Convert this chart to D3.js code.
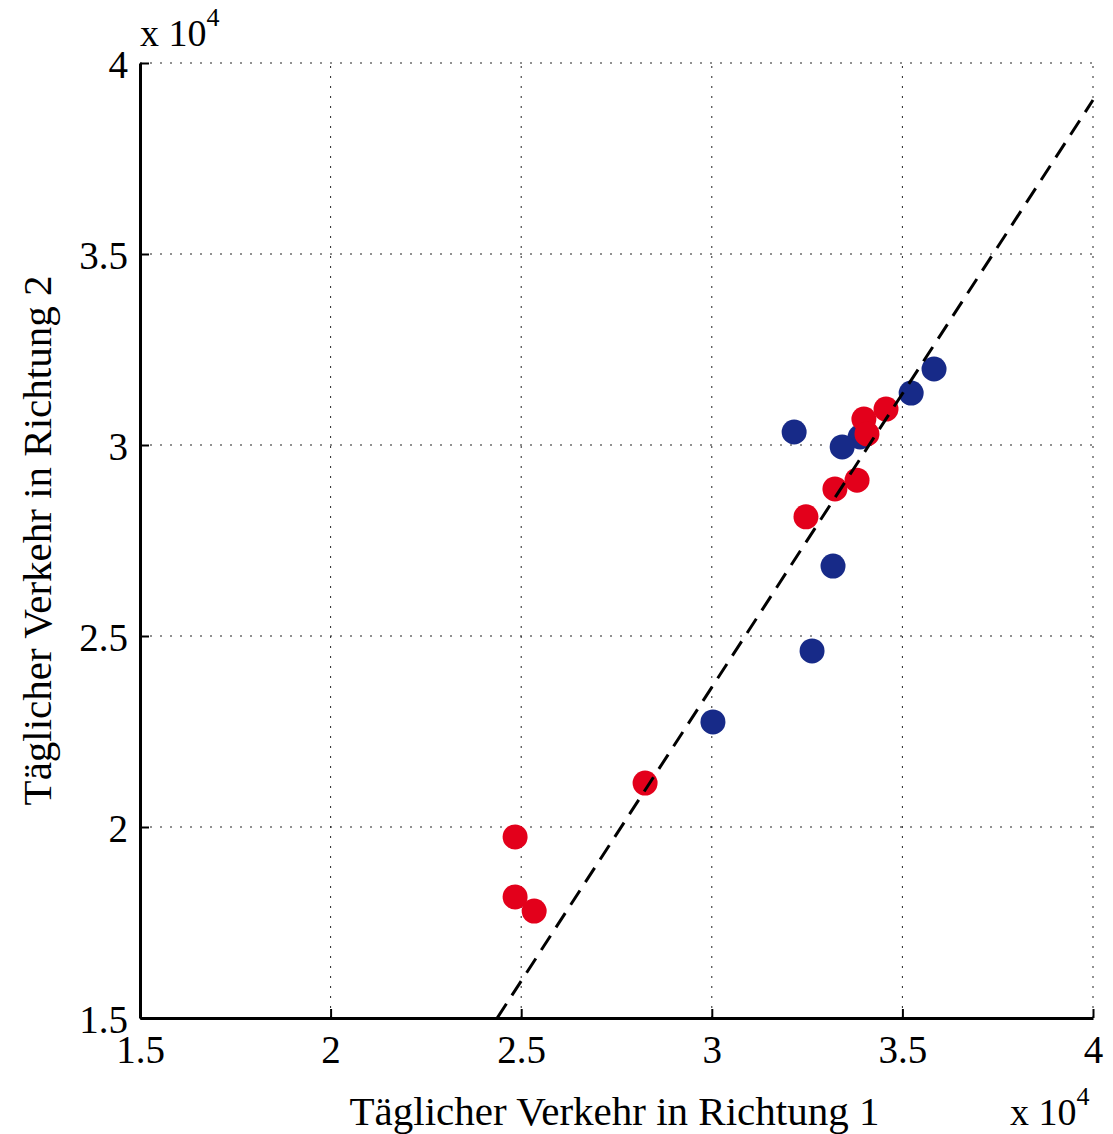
<!DOCTYPE html>
<html>
<head>
<meta charset="utf-8">
<script src="https://cdn.jsdelivr.net/npm/d3@7"></script>
<style>
  body { margin: 0; background: #fff; }
  svg text { font-family: "Liberation Serif", "Times New Roman", serif; fill: #000; }
</style>
</head>
<body>
<div id="chart"></div>
<script>
// values in units of 10^4
var xTicks = [1.5, 2, 2.5, 3, 3.5, 4]
var yTicks = [1.5, 2, 2.5, 3, 3.5, 4]

var blueX = [3.216, 3.389, 3.342, 3.523, 3.583, 3.318, 3.263, 3.003]
var blueY = [3.034, 3.021, 2.995, 3.136, 3.199, 2.683, 2.461, 2.275]

var redX = [2.484, 2.484, 2.534, 2.825, 3.247, 3.323, 3.381, 3.399, 3.407, 3.457]
var redY = [1.974, 1.817, 1.780, 2.115, 2.812, 2.885, 2.908, 3.068, 3.029, 3.094]

// fitted line endpoints
var fitX = [2.437, 4.0]
var fitY = [1.5, 3.903]

var xLabel = 'Täglicher Verkehr in Richtung 1'
var yLabel = 'Täglicher Verkehr in Richtung 2'

var width = 1113
var height = 1134
var margin = { left: 140, right: 20, top: 63, bottom: 116 }

const svg = d3
    .select('#chart')
    .append('svg')
    .attr('width', width)
    .attr('height', height)

var x = d3.scaleLinear()
    .domain([1.5, 4])
    .range([margin.left, width - margin.right])

var y = d3.scaleLinear()
    .domain([1.5, 4])
    .range([height - margin.bottom, margin.top])

// grid
var grid = svg.append('g')
    .attr('stroke', '#222')
    .attr('stroke-width', 1)
    .attr('stroke-dasharray', '2,8')

grid.selectAll('.vg')
    .data(xTicks.slice(1))
    .enter()
    .append('line')
    .attr('x1', d => x(d))
    .attr('x2', d => x(d))
    .attr('y1', y(1.5))
    .attr('y2', y(4))

grid.selectAll('.hg')
    .data(yTicks.slice(1))
    .enter()
    .append('line')
    .attr('x1', x(1.5))
    .attr('x2', x(4))
    .attr('y1', d => y(d))
    .attr('y2', d => y(d))

// dots
var blue = blueX.map((v, i) => [v, blueY[i]])
var red = redX.map((v, i) => [v, redY[i]])

svg.append('g')
    .selectAll('circle')
    .data(blue)
    .enter()
    .append('circle')
    .attr('cx', d => x(d[0]))
    .attr('cy', d => y(d[1]))
    .attr('r', 12.5)
    .attr('fill', '#172a88')

svg.append('g')
    .selectAll('circle')
    .data(red)
    .enter()
    .append('circle')
    .attr('cx', d => x(d[0]))
    .attr('cy', d => y(d[1]))
    .attr('r', 12.5)
    .attr('fill', '#e3001b')

// dashed fit line
svg.append('line')
    .attr('x1', x(fitX[0]))
    .attr('y1', y(fitY[0]))
    .attr('x2', x(fitX[1]))
    .attr('y2', y(fitY[1]))
    .attr('stroke', '#000')
    .attr('stroke-width', 3)
    .attr('stroke-dasharray', '17,10')

// axes
var xAxis = svg.append('g')
    .attr('transform', `translate(0,${y(1.5)})`)
    .call(d3.axisBottom(x).tickValues(xTicks).tickFormat(d => String(d))
        .tickSizeInner(-9).tickSizeOuter(0).tickPadding(17))

var yAxis = svg.append('g')
    .attr('transform', `translate(${x(1.5)},0)`)
    .call(d3.axisLeft(y).tickValues(yTicks).tickFormat(d => String(d))
        .tickSizeInner(-9).tickSizeOuter(0).tickPadding(12))

svg.selectAll('.domain').attr('stroke', '#000').attr('stroke-width', 3)
svg.selectAll('.tick line').attr('stroke', '#000').attr('stroke-width', 2)
svg.selectAll('.tick text')
    .attr('font-family', '"Liberation Serif", serif')
    .attr('font-size', 39)
    .attr('fill', '#000')
yAxis.selectAll('.tick text').attr('dy', '0.36em')

// labels
svg.append('text')
    .attr('x', (x(1.5) + x(4)) / 2 - 2)
    .attr('y', 1125)
    .attr('text-anchor', 'middle')
    .attr('font-size', 41)
    .text(xLabel)

svg.append('text')
    .attr('transform', `translate(51,${(y(1.5) + y(4)) / 2}) rotate(-90)`)
    .attr('text-anchor', 'middle')
    .attr('font-size', 41)
    .text(yLabel)

// exponent labels
function expLabel(px, py) {
    var t = svg.append('text')
        .attr('x', px)
        .attr('y', py)
        .attr('font-size', 38)
    t.append('tspan').text('x 10')
    t.append('tspan').attr('dy', -20).attr('font-size', 26).text('4')
}
expLabel(140, 46)
expLabel(1010, 1125)
</script>
</body>
</html>
